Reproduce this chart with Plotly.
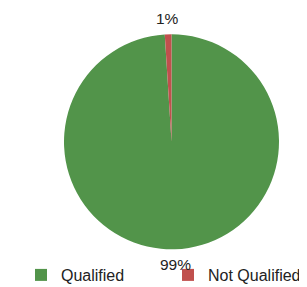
import math
import plotly.graph_objects as go

labels = ["Qualified", "Not Qualified"]
values = [99, 1]
colors = ["#52944A", "#C0504D"]

W, H = 307, 287
# pie geometry in figure pixels (page shows the figure with an 8px body offset)
cx, cy, r = 163.5, 133.8, 107.5
label_r = r + 15.5
FONT = "Liberation Sans, Arial, sans-serif"

fig = go.Figure(go.Pie(
    labels=labels,
    values=values,
    sort=False,
    direction="clockwise",
    rotation=0,
    marker=dict(colors=colors, line=dict(width=0)),
    textinfo="none",
    domain=dict(x=[(cx - r) / W, (cx + r) / W], y=[(H - cy - r) / H, (H - cy + r) / H]),
    hoverinfo="label+percent",
))

# percentage labels placed just outside each slice's mid-angle
total = sum(values)
cum = 0.0
for lab, v in zip(labels, values):
    mid = (cum + v / 2) / total
    cum += v
    th = 2 * math.pi * mid
    px = cx + label_r * math.sin(th)
    py = cy - label_r * math.cos(th)
    fig.add_annotation(
        x=px / W, y=1 - py / H, xref="paper", yref="paper",
        xanchor="center", yanchor="middle", showarrow=False,
        text=f"{round(100 * v / total)}%",
        font=dict(family=FONT, size=15.5, color="#222222"),
    )

fig.update_layout(
    width=W, height=H,
    margin=dict(l=0, r=0, t=0, b=0),
    paper_bgcolor="white",
    plot_bgcolor="white",
    showlegend=True,
    legend=dict(
        orientation="h",
        x=15.3 / W, xanchor="left",
        y=3 / H, yanchor="bottom",
        font=dict(family=FONT, size=16, color="#222222"),
        entrywidth=102, entrywidthmode="pixels",
        bgcolor="rgba(0,0,0,0)",
        itemclick=False, itemdoubleclick=False,
    ),
)

fig.write_html("out.html")
